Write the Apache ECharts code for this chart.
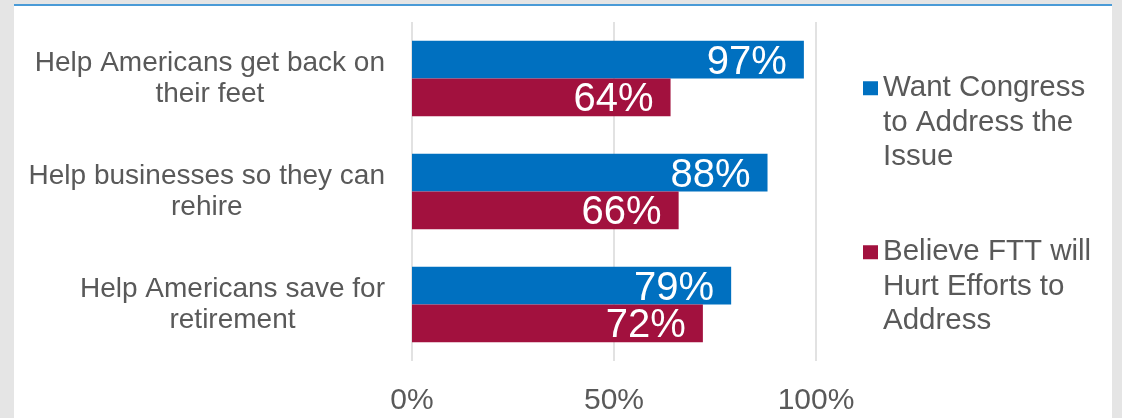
<!DOCTYPE html>
<html>
<head>
<meta charset="utf-8">
<script src="https://cdn.jsdelivr.net/npm/echarts@6/dist/echarts.min.js"></script>
<style>
html,body{margin:0;padding:0;background:#e5e5e5;}
#panel{position:absolute;left:14px;top:4px;width:1098px;height:414px;background:#fff;border-top:2px solid #4a9bd7;box-sizing:border-box;}
#chart{position:absolute;left:0;top:0;width:1122px;height:418px;}
</style>
</head>
<body>
<div id="panel"></div>
<div id="chart"></div>
<script>
// data
var categories = [
    'Help Americans get back on\ntheir feet',
    'Help businesses so they can\nrehire',
    'Help Americans save for\nretirement'
];
var seriesNames = ['Want Congress to Address the Issue', 'Believe FTT will Hurt Efforts to Address'];
var legendLines = [
    ['Want Congress', 'to Address the', 'Issue'],
    ['Believe FTT will', 'Hurt Efforts to', 'Address']
];
var wantCongress = [97, 88, 79];
var hurtEfforts = [64, 66, 72];
var xMin = 0, xMax = 100, xStep = 50;

var FONT = '"Liberation Sans", Arial, sans-serif';
var GREY = '#595959';
var catFont = 28;

// center the lines of each category label, block right-aligned at the axis
var ctx = document.createElement('canvas').getContext('2d');
ctx.font = catFont + 'px ' + FONT;
var catData = categories.map(function (c) {
    var w = Math.max.apply(null, c.split('\n').map(function (l) { return ctx.measureText(l).width; }));
    return { value: c, textStyle: { align: 'center', padding: [0, w, 0, 0] } };
});

var chart = echarts.init(document.getElementById('chart'));
var option = {
    animation: false,
    textStyle: { fontFamily: FONT },
    grid: { left: 412, right: 306, top: 22, bottom: 57, containLabel: false },
    legend: [0, 1].map(function (i) {
        return {
            data: [seriesNames[i]],
            orient: 'vertical',
            left: 863,
            top: i === 0 ? 2 : 166,
            padding: 0,
            itemWidth: 15,
            itemHeight: 14,
            icon: 'rect',
            selectedMode: false,
            // two empty lines on top so the marker sits on the first text line
            formatter: function () { return '\n\n' + legendLines[i].join('\n'); },
            textStyle: { fontSize: 29.5, lineHeight: 34.5, color: GREY, fontFamily: FONT }
        };
    }),
    xAxis: {
        type: 'value',
        min: xMin,
        max: xMax,
        interval: xStep,
        axisLine: { show: false },
        axisTick: { show: false },
        splitLine: { lineStyle: { color: '#d9d9d9', width: 1.5 } },
        axisLabel: { formatter: '{value}%', fontSize: 30, color: GREY, margin: 25 }
    },
    yAxis: {
        type: 'category',
        inverse: true,
        data: catData,
        axisLine: { show: false },
        axisTick: { show: false },
        axisLabel: { fontSize: catFont, lineHeight: 31, color: GREY, margin: 27 }
    },
    series: [{
        name: seriesNames[0],
        type: 'bar',
        data: wantCongress,
        barCategoryGap: '33%',
        barGap: '0%',
        itemStyle: { color: '#0070c0' },
        label: { show: true, position: 'insideRight', distance: 17, offset: [0, 3], formatter: '{c}%', color: '#fff', fontSize: 40 }
    }, {
        name: seriesNames[1],
        type: 'bar',
        data: hurtEfforts,
        barCategoryGap: '33%',
        barGap: '0%',
        itemStyle: { color: '#a2113e' },
        label: { show: true, position: 'insideRight', distance: 17, offset: [0, 3], formatter: '{c}%', color: '#fff', fontSize: 40 }
    }]
};
chart.setOption(option);
</script>
</body>
</html>
